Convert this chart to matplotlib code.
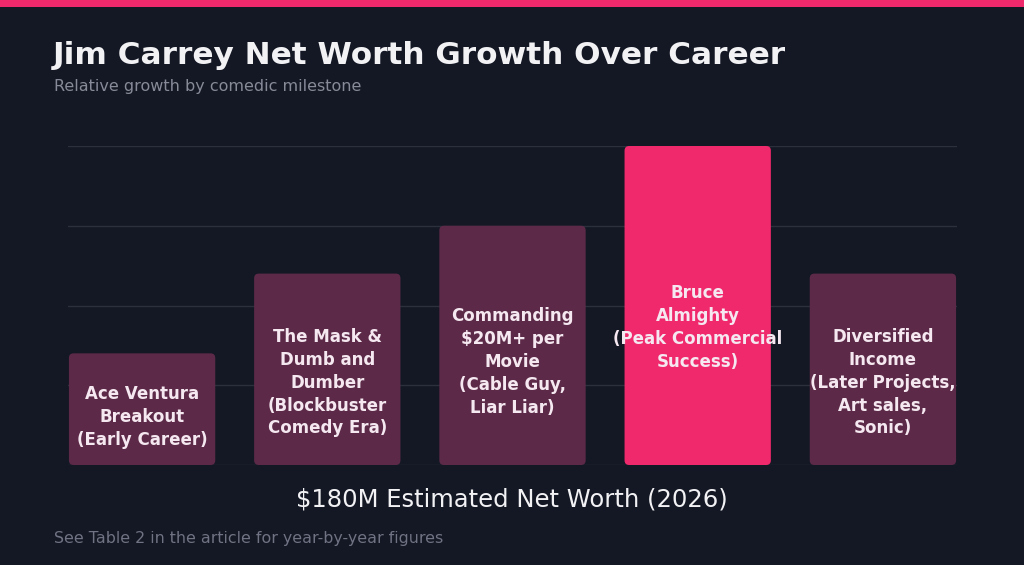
import matplotlib.pyplot as plt
from matplotlib.patches import FancyBboxPatch

plt.rcParams['font.family'] = ['DejaVu Sans']

# milestones and relative net-worth growth (peak = 100)
milestones = [
    "Ace Ventura\nBreakout\n(Early Career)",
    "The Mask &\nDumb and\nDumber\n(Blockbuster\nComedy Era)",
    "Commanding\n$20M+ per\nMovie\n(Cable Guy,\nLiar Liar)",
    "Bruce\nAlmighty\n(Peak Commercial\nSuccess)",
    "Diversified\nIncome\n(Later Projects,\nArt sales,\nSonic)",
]
growth = [35, 60, 75, 100, 60]
peak_index = 3

bg = "#141824"
maroon = "#5c2a48"
pink = "#f0296c"

fig = plt.figure(figsize=(10.24, 5.65), dpi=100, facecolor=bg)
ax = fig.add_axes([68 / 1024, 100 / 565, 889 / 1024, 319 / 565])
ax.set_facecolor(bg)

# pink strip along the top
fig.patches.append(plt.Rectangle((0, 1 - 7 / 565), 1, 7 / 565, transform=fig.transFigure,
                                 facecolor=pink, edgecolor="none"))

x = list(range(len(growth)))
colors = [pink if i == peak_index else maroon for i in x]
bars = ax.bar(x, growth, width=0.79, color=colors, zorder=2)

# swap the plain rectangles for slightly rounded ones
aspect = (889 / 4.8) / (319 / 100)
for rect in bars:
    rect.set_visible(False)
    ax.add_patch(FancyBboxPatch((rect.get_x(), rect.get_y()), rect.get_width(), rect.get_height(),
                                boxstyle="round,pad=0,rounding_size=0.025", mutation_aspect=aspect,
                                facecolor=rect.get_facecolor(), edgecolor="none", zorder=2))

for i, (label, val) in enumerate(zip(milestones, growth)):
    ax.text(i, val * 0.43, label, ha="center", va="center", color="#f5e8f0",
            fontsize=12, fontweight="bold", linespacing=1.35, zorder=3)

ax.set_xlim(-0.4, 4.4)
ax.set_ylim(0, 100)
ax.set_yticks([0, 25, 50, 75, 100])
ax.grid(axis="y", color="#2c303d", linewidth=1, zorder=0)
ax.tick_params(left=False, bottom=False, labelleft=False, labelbottom=False)
for s in ax.spines.values():
    s.set_visible(False)

fig.text(53 / 1024, 1 - 55 / 565, "Jim Carrey Net Worth Growth Over Career", color="#f2f2f5",
         fontsize=22.4, fontweight="bold", va="center", ha="left")
fig.text(54 / 1024, 1 - 87 / 565, "Relative growth by comedic milestone", color="#878b99",
         fontsize=11.5, va="center", ha="left")
fig.text(0.5, 1 - 500 / 565, "$180M Estimated Net Worth (2026)", color="#f2f2f5",
         fontsize=17.5, va="center", ha="center")
fig.text(54 / 1024, 1 - 538 / 565, "See Table 2 in the article for year-by-year figures",
         color="#6f7383", fontsize=11.4, va="center", ha="left")

fig.savefig("out.png", dpi=100, facecolor=bg)
